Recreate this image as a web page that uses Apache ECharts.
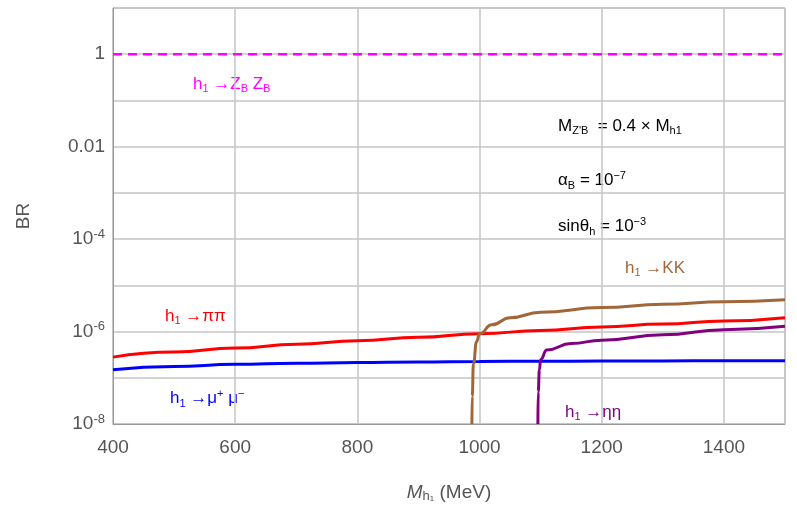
<!DOCTYPE html><html><head><meta charset="utf-8">
<script src="https://cdn.jsdelivr.net/npm/echarts@6/dist/echarts.min.js"></script>
<style>html,body{margin:0;padding:0;background:#fff}#c{width:797px;height:529px}</style></head><body><div id="c"></div>
<script>
const muX=[400,500,600,700,800,900,1000,1100,1200,1300,1400,1500];
const muY=[1.5e-7,1.75e-7,1.95e-7,2.05e-7,2.15e-7,2.2e-7,2.25e-7,2.28e-7,2.3e-7,2.32e-7,2.33e-7,2.35e-7];
const piX=[400,500,600,700,800,900,1000,1100,1200,1300,1400,1500];
const piY=[2.8e-7,3.6e-7,4.4e-7,5.3e-7,6.3e-7,7.5e-7,9e-7,1.05e-6,1.25e-6,1.45e-6,1.7e-6,2e-6];
const kX=[987.5,988,990,995,1000,1020,1050,1100,1200,1300,1400,1500];
const kY=[1e-8,4e-8,2e-7,6e-7,9e-7,1.4e-6,2e-6,2.6e-6,3.3e-6,3.9e-6,4.4e-6,4.9e-6];
const eX=[1095.5,1096,1098,1100,1110,1150,1200,1300,1400,1500];
const eY=[1e-8,5e-8,1.5e-7,2.5e-7,4e-7,5.5e-7,6.5e-7,8.5e-7,1.1e-6,1.3e-6];
const zX=[400,1500], zY=[1,1];
const z=(a,b)=>a.map((v,i)=>[v,b[i]]);
const ff='Liberation Sans';
const rich={n:{fontSize:17,fontFamily:ff},s:{fontSize:11,fontFamily:ff,verticalAlign:'bottom',padding:[8,0,0,0]},u:{fontSize:11,fontFamily:ff,padding:[0,0,10,0]}};
function lab(x,y,t,c){return {type:'text',left:x,top:y,style:{text:t,fill:c,rich:Object.fromEntries(Object.entries(rich).map(([k,v])=>[k,Object.assign({},v,{fill:c})])),font:'17px '+ff}};}
const ch=echarts.init(document.getElementById('c'));
ch.setOption({
 animation:false,
 grid:{left:113,right:12,top:8,bottom:105,show:true,borderColor:'#999',borderWidth:1},
 xAxis:{type:'value',min:400,max:1500,interval:200,
  axisLabel:{fontSize:19,color:'#555',fontFamily:ff,margin:14,showMaxLabel:false,formatter:v=>String(v)},
  axisLine:{lineStyle:{color:'#999'}},axisTick:{show:false},
  splitLine:{lineStyle:{color:'#c4c4c4',width:1.5}},
  name:'{i|M}{s|h₁} (MeV)',nameLocation:'middle',nameGap:58,
  nameTextStyle:{fontSize:19,color:'#555',fontFamily:ff,rich:{i:{fontSize:19,fontStyle:'italic',color:'#555',fontFamily:ff},s:{fontSize:13,color:'#555',padding:[8,0,0,0]}}}},
 yAxis:{type:'log',logBase:10,min:1e-8,max:10,
  axisLabel:{fontSize:19,color:'#555',fontFamily:ff,formatter:v=>{const e=Math.round(Math.log10(v));if(e%2!==0||e>0)return '';if(e===0)return '1';if(e===-2)return '0.01';return '10{u|'+e+'}';},
   rich:{u:{fontSize:13,color:'#555',padding:[0,0,10,0]}}},
  axisLine:{lineStyle:{color:'#999'}},axisTick:{show:false},
  splitLine:{interval:(i,v)=>i%2===0,lineStyle:{color:'#c4c4c4',width:1.5}},
  name:'BR',nameLocation:'middle',nameGap:80,nameTextStyle:{fontSize:19,color:'#555',fontFamily:ff}},
 series:[
  {type:'line',data:z(zX,zY),symbol:'none',lineStyle:{color:'#f0f',width:2.5,type:[9,6]}},
  {type:'line',data:z(muX,muY),symbol:'none',smooth:true,smoothMonotone:'x',lineStyle:{color:'#00f',width:3}},
  {type:'line',data:z(piX,piY),symbol:'none',smooth:true,smoothMonotone:'x',lineStyle:{color:'#f00',width:3}},
  {type:'line',data:z(kX,kY),symbol:'none',smooth:true,smoothMonotone:'x',lineStyle:{color:'#a0683a',width:3}},
  {type:'line',data:z(eX,eY),symbol:'none',smooth:true,smoothMonotone:'x',lineStyle:{color:'#800080',width:3}}
 ],
 graphic:[
  lab(193,76,'{n|h}{s|1}{n| →}{n|Z}{s|B}{n| Z}{s|B}','#f0f'),
  lab(558,118,'{n|M}{s|Z\'B}{n|  = 0.4 × M}{s|h1}','#000'),
  lab(558,170,'{n|α}{s|B}{n| = 10}{u|−7}','#000'),
  lab(558,216,'{n|sinθ}{s|h}{n| = 10}{u|−3}','#000'),
  lab(625,260,'{n|h}{s|1}{n| →KK}','#a0683a'),
  lab(165,308,'{n|h}{s|1}{n| →ππ}','#f00'),
  lab(170,388,'{n|h}{s|1}{n| →μ}{u|+}{n| μ}{u|−}','#00f'),
  lab(565,404,'{n|h}{s|1}{n| →ηη}','#800080')
 ]
});
</script></body></html>
